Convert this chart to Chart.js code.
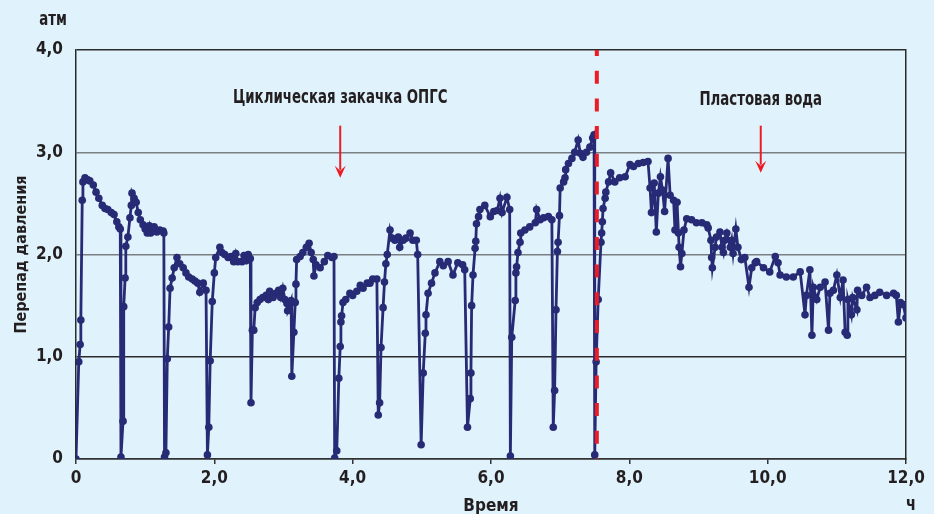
<!DOCTYPE html>
<html>
<head>
<meta charset="utf-8">
<script src="https://cdn.jsdelivr.net/npm/chart.js@4.4.1/dist/chart.umd.min.js"></script>
<style>
  html, body { margin: 0; padding: 0; background: #e0f2fb; }
  #wrap { width: 934px; height: 514px; }
</style>
</head>
<body>
<div id="wrap"><canvas id="pressure" width="934" height="514"></canvas></div>
<script>
// время, ч
const timeHours = [
  0, 0.04, 0.06, 0.07, 0.09, 0.10, 0.13, 0.17, 0.20, 0.25, 0.29, 0.33, 0.38, 0.42, 0.46, 0.51, 0.55, 0.59, 0.62, 0.64,
  0.65, 0.68, 0.69, 0.71, 0.72, 0.75, 0.78, 0.80, 0.81, 0.84, 0.87, 0.90, 0.93, 0.97, 1.00, 1.03, 1.06, 1.08, 1.13, 1.17, 1.21, 1.26, 1.27,
  1.28, 1.30, 1.32, 1.34, 1.36, 1.39, 1.42, 1.46, 1.50, 1.55, 1.59, 1.63, 1.68, 1.72, 1.76, 1.79, 1.84, 1.88,
  1.90, 1.92, 1.94, 1.97, 2.00, 2.02, 2.08, 2.11, 2.15, 2.20, 2.24, 2.28, 2.31, 2.34, 2.40, 2.43, 2.46, 2.49, 2.52,
  2.53, 2.55, 2.57, 2.59, 2.62, 2.66, 2.70, 2.75, 2.78, 2.80, 2.85, 2.89, 2.93, 2.96, 2.99, 3.02, 3.05, 3.06, 3.09, 3.11,
  3.12, 3.15, 3.17, 3.18, 3.19, 3.24, 3.28, 3.33, 3.37, 3.40, 3.43, 3.44, 3.47, 3.53, 3.59, 3.64, 3.70, 3.73,
  3.74, 3.77, 3.80, 3.82, 3.83, 3.84, 3.86, 3.90, 3.96, 4.00, 4.06, 4.11, 4.15, 4.21, 4.25, 4.29, 4.35,
  4.37, 4.39, 4.41, 4.44, 4.46, 4.48, 4.50, 4.54, 4.57, 4.61, 4.66, 4.68, 4.73, 4.77, 4.83, 4.87, 4.92, 4.94,
  4.99, 5.02, 5.05, 5.06, 5.09, 5.14, 5.19, 5.26, 5.31, 5.38, 5.45, 5.52, 5.59, 5.62,
  5.66, 5.70, 5.71, 5.72, 5.74, 5.77, 5.78, 5.79, 5.82, 5.84, 5.91, 5.99, 6.04, 6.09, 6.13, 6.16, 6.23, 6.27,
  6.28, 6.30, 6.35, 6.36, 6.37, 6.39, 6.42, 6.43, 6.49, 6.56, 6.64, 6.66, 6.71, 6.76, 6.83, 6.88,
  6.90, 6.92, 6.94, 6.96, 6.97, 6.99, 7.00, 7.05, 7.07, 7.08, 7.12, 7.17, 7.21, 7.26, 7.29, 7.33, 7.38, 7.43, 7.47, 7.49,
  7.50, 7.52, 7.55, 7.59, 7.60, 7.61, 7.62, 7.65, 7.66, 7.70, 7.73, 7.79, 7.86, 7.94, 8.01, 8.06, 8.13, 8.20, 8.27,
  8.30, 8.32, 8.36, 8.39, 8.42, 8.45, 8.48, 8.51, 8.56, 8.59, 8.64, 8.66, 8.69, 8.71, 8.72, 8.74, 8.76, 8.79, 8.83, 8.90, 8.97, 9.05, 9.12, 9.14,
  9.18, 9.19, 9.20, 9.24, 9.26, 9.31, 9.34, 9.36, 9.38, 9.41, 9.46, 9.48, 9.50, 9.54, 9.57,
  9.62, 9.67, 9.73, 9.77, 9.82, 9.84, 9.94, 10.03, 10.11, 10.15, 10.18, 10.27, 10.37, 10.47,
  10.54, 10.56, 10.61, 10.64, 10.66, 10.71, 10.76, 10.83, 10.88, 10.90, 10.95, 11.00, 11.05, 11.09, 11.12, 11.15,
  11.16, 11.21, 11.23, 11.29, 11.30, 11.36, 11.43, 11.48, 11.55, 11.62, 11.72, 11.82, 11.86, 11.89, 11.92, 11.96, 12.00
];

// перепад давления, атм
const pressureDrop = [
  0, 0.95, 1.12, 1.36, 2.53, 2.71, 2.75, 2.73, 2.72, 2.68, 2.61, 2.55, 2.48, 2.45, 2.44, 2.41, 2.39, 2.32, 2.27, 2.25,
  0.02, 0.37, 1.49, 1.77, 2.08, 2.17, 2.36, 2.48, 2.60, 2.55, 2.51, 2.41, 2.34, 2.29, 2.25, 2.21, 2.28, 2.21, 2.27, 2.22, 2.24, 2.23, 2.21,
  0.02, 0.06, 0.98, 1.29, 1.67, 1.77, 1.87, 1.97, 1.91, 1.87, 1.82, 1.78, 1.76, 1.74, 1.72, 1.63, 1.72, 1.65,
  0.04, 0.31, 0.96, 1.54, 1.82, 1.97, 2.07, 2.02, 2.00, 1.97, 1.98, 1.93, 2.01, 1.93, 1.93, 1.99, 1.94, 2.00, 1.96,
  0.55, 1.26, 1.26, 1.48, 1.53, 1.56, 1.58, 1.60, 1.56, 1.64, 1.58, 1.62, 1.65, 1.58, 1.67, 1.56, 1.52, 1.45, 1.51, 1.55,
  0.81, 1.24, 1.53, 1.71, 1.95, 1.98, 2.02, 2.07, 2.11, 2.02, 1.95, 1.79, 1.90, 1.87, 1.93, 1.99, 1.97, 1.98,
  0.01, 0.08, 0.79, 1.10, 1.34, 1.40, 1.53, 1.56, 1.62, 1.60, 1.64, 1.70, 1.67, 1.72, 1.72, 1.76, 1.76,
  0.43, 0.55, 1.09, 1.48, 1.73, 1.91, 2.00, 2.24, 2.16, 2.14, 2.17, 2.07, 2.14, 2.16, 2.21, 2.14, 2.14, 2.00,
  0.14, 0.84, 1.23, 1.41, 1.62, 1.72, 1.82, 1.93, 1.89, 1.93, 1.80, 1.92, 1.90, 1.85,
  0.31, 0.59, 0.84, 1.50, 1.80, 2.06, 2.13, 2.30, 2.37, 2.44, 2.48, 2.37, 2.42, 2.43, 2.55, 2.41, 2.56, 2.44,
  0.03, 1.19, 1.55, 1.82, 1.88, 2.02, 2.12, 2.21, 2.24, 2.27, 2.31, 2.44, 2.34, 2.36, 2.37, 2.34,
  0.31, 0.67, 1.46, 2.03, 2.12, 2.38, 2.65, 2.71, 2.75, 2.83, 2.89, 2.94, 3.00, 3.12, 2.99, 2.95, 3.00, 3.05, 3.14, 3.17,
  0.04, 0.95, 1.56, 2.12, 2.21, 2.32, 2.45, 2.55, 2.61, 2.71, 2.80, 2.71, 2.75, 2.76, 2.88, 2.86, 2.89, 2.90, 2.91,
  2.65, 2.41, 2.70, 2.22, 2.60, 2.76, 2.63, 2.42, 2.94, 2.58, 2.53, 2.24, 2.51, 2.21, 2.07, 1.88, 2.01, 2.24, 2.35, 2.34, 2.31, 2.31, 2.29, 2.26,
  2.14, 1.97, 1.87, 2.07, 2.17, 2.22, 2.07, 2.02, 2.14, 2.21, 2.07, 2.14, 2.01, 2.25, 2.07,
  1.95, 1.97, 1.68, 1.87, 1.92, 1.93, 1.87, 1.83, 1.98, 1.92, 1.80, 1.78, 1.78, 1.83,
  1.41, 1.60, 1.85, 1.21, 1.68, 1.56, 1.68, 1.73, 1.26, 1.62, 1.65, 1.80, 1.58, 1.75, 1.24, 1.21,
  1.56, 1.41, 1.58, 1.46, 1.65, 1.60, 1.68, 1.58, 1.60, 1.63, 1.60, 1.62, 1.60, 1.34, 1.53, 1.51, 1.38
];

// момент перехода на пластовую воду
const switchTime = 7.53;

const xTickValues = [0, 2, 4, 6, 8, 10, 12];
const xTickLabels = ["0", "2,0", "4,0", "6,0", "8,0", "10,0", "12,0"];
const yTickValues = [0, 1, 2, 3, 4];
const yTickLabels = ["0", "1,0", "2,0", "3,0", "4,0"];

const notes = [
  { text: "Циклическая закачка ОПГС", x: 3.82, y: 3.53, from: 3.26, to: 2.75 },
  { text: "Пластовая вода", x: 9.90, y: 3.51, from: 3.26, to: 2.80 }
];

const FONT = "'Liberation Sans Narrow', 'DejaVu Sans Condensed', 'Roboto', sans-serif";
const INK = "#231f20";
const NAVY = "#272a74";
const RED = "#ec1c24";
const BG = "#e0f2fb";

const series = timeHours.map((t, i) => ({ x: t, y: pressureDrop[i] }));

// узкий текст: шрифт сжимаем по горизонтали
function narrowText(ctx, text, x, y, squeeze) {
  ctx.save();
  ctx.translate(x, y);
  ctx.scale(squeeze, 1);
  ctx.fillText(text, 0, 0);
  ctx.restore();
}

const decorPlugin = {
  id: "decor",
  beforeDraw(chart) {
    const ctx = chart.ctx;
    ctx.save();
    ctx.fillStyle = BG;
    ctx.fillRect(0, 0, chart.width, chart.height);
    ctx.restore();
  },
  afterDatasetsDraw(chart) {
    const ctx = chart.ctx;
    const xs = chart.scales.x, ys = chart.scales.y;
    ctx.save();
    ctx.font = "bold 19px " + FONT;
    ctx.fillStyle = INK;
    ctx.textAlign = "center";
    ctx.textBaseline = "middle";
    notes.forEach(n => {
      const px = xs.getPixelForValue(n.x);
      ctx.fillStyle = INK;
      narrowText(ctx, n.text, px, ys.getPixelForValue(n.y), 0.78);
      const y1 = ys.getPixelForValue(n.from);
      const y2 = ys.getPixelForValue(n.to);
      ctx.strokeStyle = RED;
      ctx.lineWidth = 2;
      ctx.beginPath();
      ctx.moveTo(px, y1);
      ctx.lineTo(px, y2 - 8);
      ctx.stroke();
      ctx.fillStyle = RED;
      ctx.beginPath();
      ctx.moveTo(px - 5.5, y2 - 12);
      ctx.lineTo(px, y2 - 7);
      ctx.lineTo(px + 5.5, y2 - 12);
      ctx.lineTo(px, y2);
      ctx.closePath();
      ctx.fill();
    });
    // единицы осей
    ctx.fillStyle = INK;
    narrowText(ctx, "атм", 53, 20, 0.78);
    narrowText(ctx, "ч", 911, 505, 0.85);
    ctx.restore();
  }
};

new Chart(document.getElementById("pressure"), {
  type: "line",
  data: {
    datasets: [
      {
        label: "Смена агента",
        data: [{ x: switchTime, y: 4 }, { x: switchTime, y: 0 }],
        borderColor: RED,
        borderWidth: 4,
        borderDash: [13, 14.7],
        borderDashOffset: 7,
        pointRadius: 0,
        fill: false
      },
      {
        label: "Перепад давления",
        data: series,
        borderColor: NAVY,
        backgroundColor: NAVY,
        borderWidth: 2.8,
        pointRadius: 3.8,
        pointBorderWidth: 0,
        pointBackgroundColor: NAVY,
        tension: 0,
        fill: false
      }
    ]
  },
  options: {
    responsive: false,
    animation: false,
    devicePixelRatio: 1,
    layout: { padding: { top: 50, right: 28, left: 0, bottom: 0 } },
    plugins: {
      legend: { display: false },
      tooltip: { enabled: false }
    },
    scales: {
      x: {
        type: "linear",
        min: 0,
        max: 12,
        afterFit(s) { s.height = 55; },
        afterBuildTicks(s) { s.ticks = xTickValues.map(v => ({ value: v })); },
        ticks: {
          padding: 4,
          maxRotation: 0,
          autoSkip: false,
          color: INK,
          font: { family: FONT, size: 17, weight: "bold" },
          callback: (v) => xTickLabels[xTickValues.indexOf(v)]
        },
        grid: { drawOnChartArea: false, drawTicks: true, tickLength: 5, color: "#333", lineWidth: 1.5 },
        border: { color: "#333", width: 1.5 },
        title: {
          display: true,
          text: "Время",
          color: INK,
          font: { family: FONT, size: 17, weight: "bold", lineHeight: 1 },
          padding: { top: 0, bottom: -1 }
        }
      },
      y: {
        min: 0,
        max: 4,
        afterFit(s) { s.width = 76; },
        afterBuildTicks(s) { s.ticks = yTickValues.map(v => ({ value: v })); },
        ticks: {
          padding: 13,
          color: INK,
          font: { family: FONT, size: 17, weight: "bold" },
          callback: (v) => yTickLabels[yTickValues.indexOf(v)]
        },
        grid: {
          drawTicks: false,
          color: (c) => (c.tick && (c.tick.value === 2 || c.tick.value === 3)) ? "#7a7f84" : "#2b2b2b",
          lineWidth: 1.5
        },
        border: { color: "#2b2b2b", width: 1.5 },
        title: {
          display: true,
          text: "Перепад давления",
          color: INK,
          font: { family: FONT, size: 16, weight: "bold", lineHeight: 1 },
          padding: { top: 14, bottom: 0 }
        }
      },
      y2: {
        position: "right",
        min: 0,
        max: 4,
        afterFit(s) { s.width = 0; },
        ticks: { display: false },
        grid: { display: false },
        border: { color: "#2b2b2b", width: 1.5 }
      }
    }
  },
  plugins: [decorPlugin]
});
</script>
</body>
</html>
